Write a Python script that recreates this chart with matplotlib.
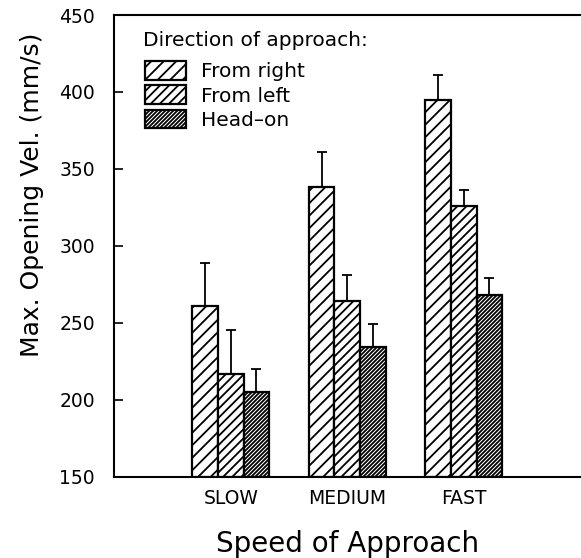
import numpy as np
import matplotlib
matplotlib.use("Agg")
import matplotlib.pyplot as plt
from matplotlib.backend_bases import GraphicsContextBase
from matplotlib.path import Path

categories = ["SLOW", "MEDIUM", "FAST"]
series_names = ["From right", "From left", "Head\u2013on"]
from_right = [261, 338, 395]
from_right_err = [28, 23, 16]
from_left = [217, 264, 326]
from_left_err = [28, 17, 10]
head_on = [205, 234, 268]
head_on_err = [15, 15, 11]
yticks = [150, 200, 250, 300, 350, 400, 450]


# finer control of hatch line spacing
def _hatch_path(self, density=2.0):
    h = self.get_hatch()
    if h is None:
        return None
    return Path.hatch(h, 2)


GraphicsContextBase.get_hatch_path = _hatch_path

plt.rcParams['font.family'] = ['DejaVu Sans']
plt.rcParams['hatch.linewidth'] = 1.3

fig = plt.figure(figsize=(5.81, 5.58), dpi=100)
ax = fig.add_axes([0.1967, 0.1457, 0.802, 0.8274])

x = np.arange(len(categories))
w = 0.22
values = [from_right, from_left, head_on]
errs = [from_right_err, from_left_err, head_on_err]
hatches = ["/" * 8, "/" * 11, "/" * 25]
handles = []
for i, (v, e, h, name) in enumerate(zip(values, errs, hatches, series_names)):
    pos = x + (i - 1) * w
    b = ax.bar(pos, np.array(v) - 150, width=w, bottom=150, color="white",
               edgecolor="black", linewidth=1.6, hatch=h, label=name, zorder=2)
    handles.append(b)
    ax.errorbar(pos, v, yerr=[np.zeros(len(e)), e], fmt="none",
                ecolor="black", elinewidth=1.3, capsize=3.3, capthick=1.3,
                zorder=3)

ax.set_xlim(-1, 3)
ax.set_ylim(150, 450)
ax.set_yticks(yticks)
ax.set_xticks(x)
ax.set_xticklabels(categories, fontsize=13.5)
ax.tick_params(axis="x", length=0, pad=9)
ax.tick_params(axis="y", direction="in", length=6.5, width=1.2, labelsize=13.5, pad=14)
for s in ["left", "bottom", "top"]:
    ax.spines[s].set_linewidth(1.5)
ax.spines["right"].set_visible(False)

ax.set_xlabel("Speed of Approach", fontsize=20, labelpad=16)
ax.set_ylabel("Max. Opening Vel. (mm/s)", fontsize=18)
ax.yaxis.set_label_coords(-0.15, 0.61)

ax.text(0.062, 0.944, "Direction of approach:", transform=ax.transAxes,
        fontsize=14.5, ha="left", va="center")
leg = ax.legend(handles=handles, labels=series_names, loc="upper left",
                bbox_to_anchor=(0.066, 0.9), frameon=False, fontsize=14.5,
                handlelength=2.05, handleheight=1.05, labelspacing=0.2,
                handletextpad=0.75, borderpad=0, borderaxespad=0)

fig.savefig("out.png", dpi=100)
